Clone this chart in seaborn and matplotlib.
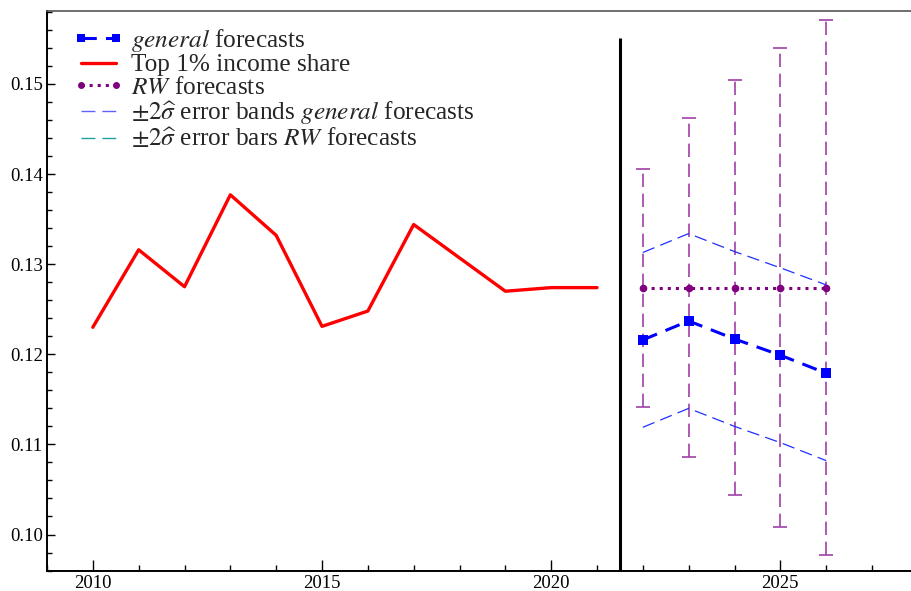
import numpy as np
import pandas as pd
import matplotlib
matplotlib.use("Agg")
import matplotlib.pyplot as plt
from matplotlib.lines import Line2D
from matplotlib.ticker import MultipleLocator, FormatStrFormatter
import seaborn as sns

# Observed top 1% income share
years_hist = [2010, 2011, 2012, 2013, 2014, 2015, 2016, 2017, 2018, 2019, 2020, 2021]
top1_share = [0.1230, 0.1316, 0.1275, 0.1377, 0.1332, 0.1231, 0.1248, 0.1344, 0.1307, 0.1270, 0.1274, 0.1274]

# Forecast horizon
years_fc = [2022, 2023, 2024, 2025, 2026]
general_fc = [0.1216, 0.1237, 0.1217, 0.1199, 0.1179]
general_upper = [0.1313, 0.1334, 0.1314, 0.1296, 0.1277]
general_lower = [0.1119, 0.1140, 0.1120, 0.1102, 0.1082]
rw_fc = [0.1274, 0.1274, 0.1274, 0.1274, 0.1274]
rw_err = [0.0132, 0.0188, 0.0230, 0.0266, 0.0297]

forecast_origin = 2021.5

sns.set_style("ticks")
plt.rcParams["font.family"] = ["Liberation Serif", "DejaVu Serif"]
plt.rcParams["mathtext.fontset"] = "stix"

hist = pd.DataFrame({"year": years_hist, "share": top1_share})
fc = pd.DataFrame({"year": years_fc, "general": general_fc, "upper": general_upper,
                   "lower": general_lower, "rw": rw_fc, "rw_err": rw_err})

fig = plt.figure(figsize=(9.11, 5.91), dpi=100)
ax = fig.add_axes([47 / 911, 20 / 591, 864 / 911, 560 / 591])

purple = "#800080"
bar_purple = "#a040a8"

# RW error bars (dashed stems, solid caps)
eb = ax.errorbar(fc["year"], fc["rw"], yerr=fc["rw_err"], fmt="none",
                 ecolor=bar_purple, elinewidth=1.2, capsize=5, capthick=1.2, zorder=2)
eb[2][0].set_linestyle((0, (8, 4)))

# general forecast error bands
sns.lineplot(data=fc, x="year", y="upper", ax=ax, color="#2030ff", lw=0.9, zorder=3)
ax.lines[-1].set_dashes((10, 5))
sns.lineplot(data=fc, x="year", y="lower", ax=ax, color="#2030ff", lw=0.9, zorder=3)
ax.lines[-1].set_dashes((10, 5))

# RW forecasts
sns.lineplot(data=fc, x="year", y="rw", ax=ax, color=purple, lw=2.2,
             marker="o", markersize=5.5, markeredgewidth=0, zorder=4)
ax.lines[-1].set_linestyle(":")

# general forecasts
sns.lineplot(data=fc, x="year", y="general", ax=ax, color="#0000ff", lw=2.2,
             marker="s", markersize=7, markeredgewidth=0, zorder=5)
ax.lines[-1].set_dashes((5, 3))

# observed series
sns.lineplot(data=hist, x="year", y="share", ax=ax, color="#ff0000", lw=2.4, zorder=5)

# forecast origin
ax.vlines(forecast_origin, 0.09595, 0.1551, color="black", lw=2.2, zorder=6)

ax.set_xlim(2009, 2027.85)
ax.set_ylim(0.09595, 0.1581)
ax.set_xlabel("")
ax.set_ylabel("")

ax.xaxis.set_major_locator(MultipleLocator(5))
ax.xaxis.set_minor_locator(MultipleLocator(1))
ax.yaxis.set_major_locator(MultipleLocator(0.01))
ax.yaxis.set_minor_locator(MultipleLocator(0.002))
ax.yaxis.set_major_formatter(FormatStrFormatter("%.2f"))
ax.tick_params(which="both", direction="in", top=False, right=False, labelsize=13.5,
               width=1.0, colors="black")
ax.tick_params(axis="x", which="major", length=8, pad=3)
ax.tick_params(axis="x", which="minor", length=4.5)
ax.tick_params(axis="y", which="major", length=5.5, pad=3)
ax.tick_params(axis="y", which="minor", length=3.5)

for side in ("left", "bottom"):
    ax.spines[side].set_linewidth(1.4)
    ax.spines[side].set_color("black")
ax.spines["top"].set_visible(True)
ax.spines["top"].set_color("#555555")
ax.spines["top"].set_linewidth(1.2)
ax.spines["right"].set_visible(False)

handles = [
    Line2D([], [], color="#0000ff", lw=2.2, dashes=(5, 3), marker="s", markersize=6,
           markeredgewidth=0),
    Line2D([], [], color="#ff0000", lw=2.4),
    Line2D([], [], color=purple, lw=2.2, linestyle=":", marker="o", markersize=5,
           markeredgewidth=0),
    Line2D([], [], color="#6060ff", lw=1.0, dashes=(10, 5)),
    Line2D([], [], color="#20a0a0", lw=1.0, dashes=(10, 5)),
]
labels = [
    r"$\mathit{general}$ forecasts",
    "Top 1% income share",
    r"$\mathit{RW}$ forecasts",
    r"$\pm2\widehat{\sigma}$ error bands $\mathit{general}$ forecasts",
    r"$\pm2\widehat{\sigma}$ error bars $\mathit{RW}$ forecasts",
]
ax.legend(handles, labels, loc="upper left", bbox_to_anchor=(0.030, 0.972),
          frameon=False, fontsize=18.2, handlelength=2.0, handletextpad=0.3,
          labelspacing=0.0, borderpad=0, borderaxespad=0, numpoints=2)

fig.savefig("out.png", dpi=100)
